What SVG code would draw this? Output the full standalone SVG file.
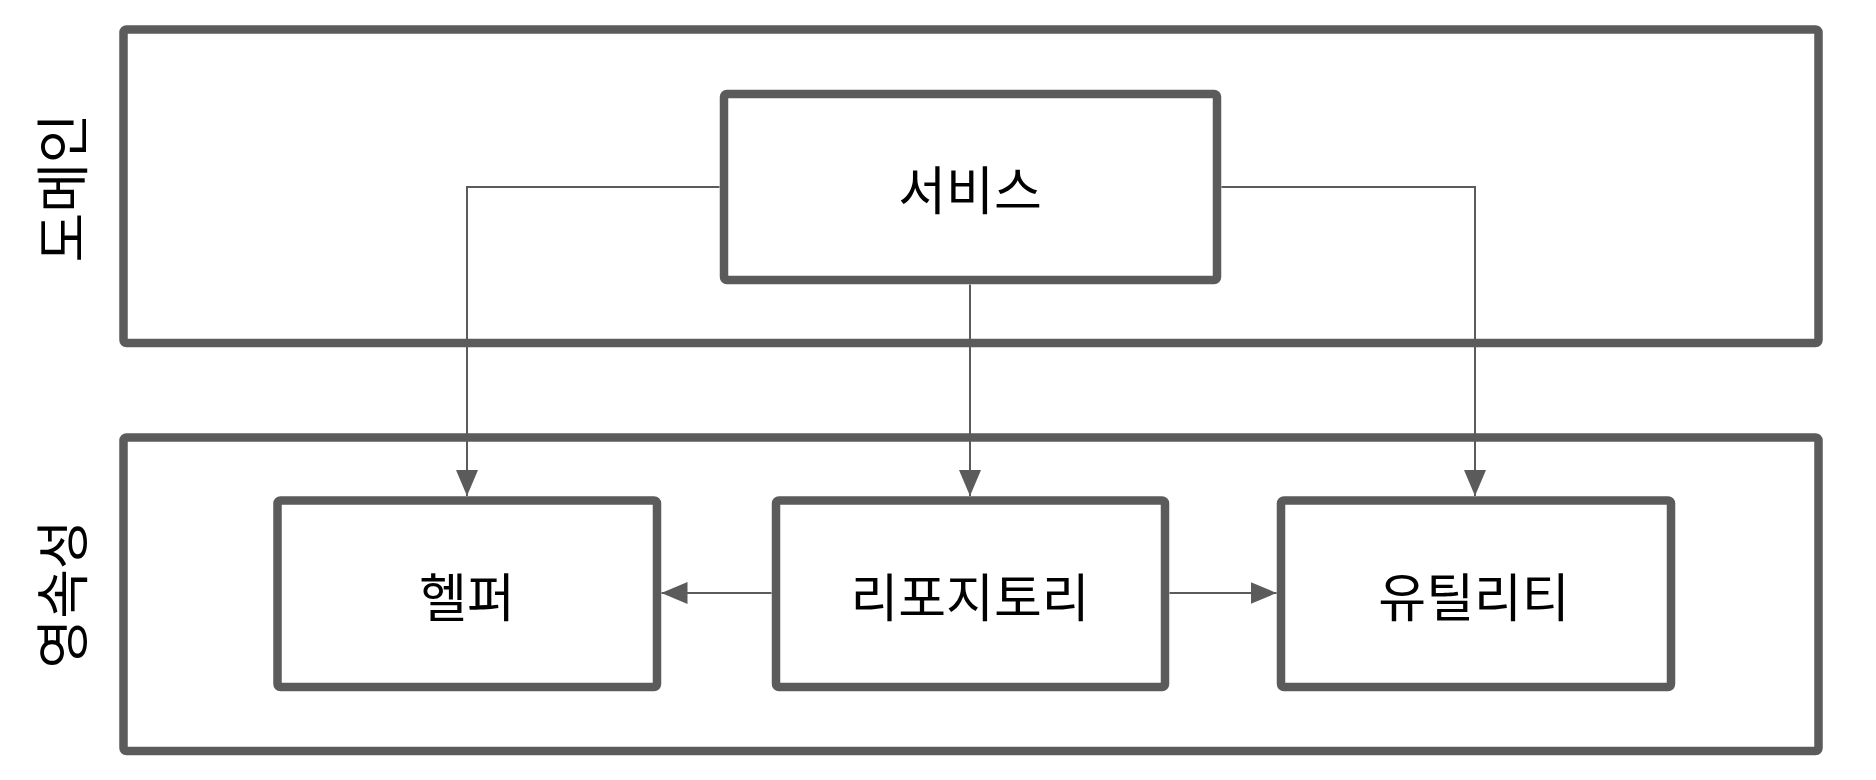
<svg xmlns="http://www.w3.org/2000/svg" width="1876" height="780" viewBox="0 0 1876 780">
<defs>
<style>
.box{fill:#ffffff;stroke:#5b5b5b;stroke-width:8.5;}
.lbl{font-family:"Noto Sans CJK KR","Noto Sans",sans-serif;font-size:52px;fill:#000000;text-anchor:middle;dominant-baseline:central;}
.side{font-size:54px;}
.con{fill:none;stroke:#5b5b5b;stroke-width:2;}
</style>
<marker id="arr" viewBox="0 0 26 22" refX="26" refY="11" markerWidth="26" markerHeight="22" markerUnits="userSpaceOnUse" orient="auto">
<path d="M0,0 L26,11 L0,22 Z" fill="#5b5b5b"/>
</marker>
</defs>
<rect width="1876" height="780" fill="#ffffff"/>
<g id="domain">
<rect class="box" x="123.5" y="29.5" width="1695" height="313.5" rx="3"/>
<text class="lbl side" transform="translate(59,188) rotate(-90)">도메인</text>
</g>
<g id="persistence">
<rect class="box" x="123.5" y="437.5" width="1695" height="313.5" rx="3"/>
<text class="lbl side" transform="translate(59,594) rotate(-90)">영속성</text>
</g>
<g id="service">
<rect class="box" x="724" y="94" width="493" height="186" rx="3"/>
<text class="lbl" x="970" y="187">서비스</text>
</g>
<g id="helper">
<rect class="box" x="277.5" y="500.5" width="379.5" height="186.5" rx="3"/>
<text class="lbl" x="467" y="594">헬퍼</text>
</g>
<g id="repository">
<rect class="box" x="776" y="500.5" width="389" height="186.5" rx="3"/>
<text class="lbl" x="970" y="594">리포지토리</text>
</g>
<g id="utility">
<rect class="box" x="1281" y="500.5" width="390" height="186.5" rx="3"/>
<text class="lbl" x="1474" y="594">유틸리티</text>
</g>
<g id="connectors">
<path class="con" d="M719.5,187 H467 V496" marker-end="url(#arr)"/>
<path class="con" d="M1221.5,187 H1475 V496" marker-end="url(#arr)"/>
<path class="con" d="M970,284.5 V496" marker-end="url(#arr)"/>
<path class="con" d="M771.5,593 H661.5" marker-end="url(#arr)"/>
<path class="con" d="M1169.5,593 H1276.5" marker-end="url(#arr)"/>
</g>
</svg>
